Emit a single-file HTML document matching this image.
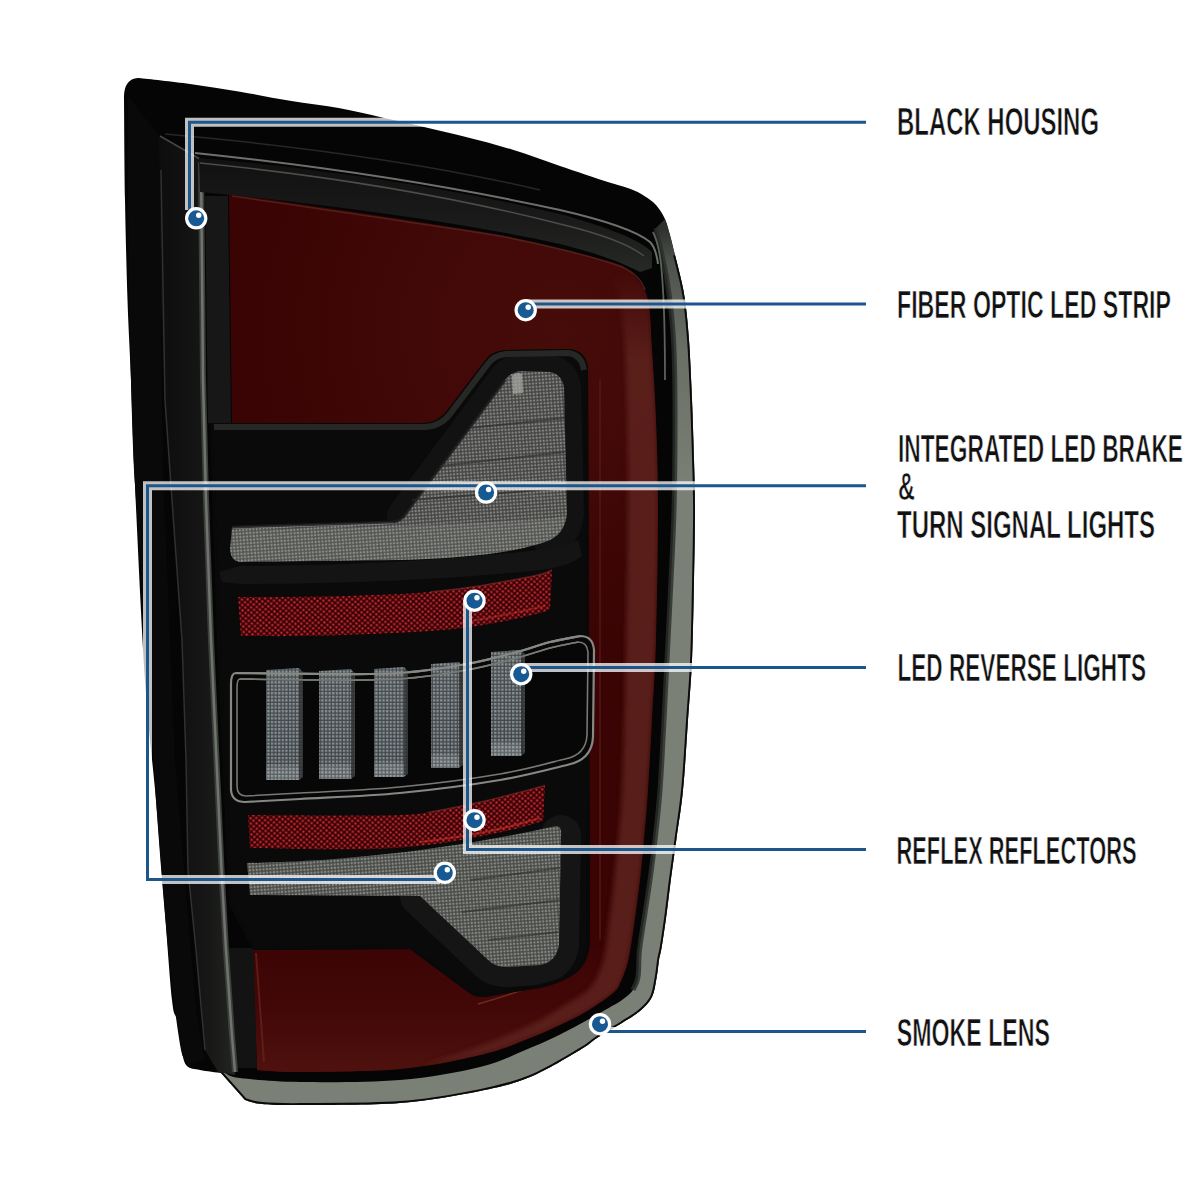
<!DOCTYPE html>
<html>
<head>
<meta charset="utf-8">
<style>
html,body{margin:0;padding:0;background:#fff;}
body{width:1200px;height:1200px;overflow:hidden;position:relative;}
svg{position:absolute;left:0;top:0;display:block;}
text{font-family:"Liberation Sans",sans-serif;fill:#111;}
</style>
</head>
<body>
<svg width="1200" height="1200" viewBox="0 0 1200 1200">
<defs>
  <pattern id="tex" width="3.4" height="3.4" patternUnits="userSpaceOnUse" patternTransform="rotate(-4)">
    <rect width="3.4" height="3.4" fill="#2e2f2d"/>
    <rect x="0.5" y="0.5" width="2.3" height="2.3" fill="#6e6f6b"/>
    <rect x="1" y="1" width="1.2" height="1.2" fill="#8c8d89"/>
  </pattern>
  <pattern id="texb" width="3.6" height="3.6" patternUnits="userSpaceOnUse">
    <rect width="3.6" height="3.6" fill="#3e4447"/>
    <rect x="0.9" y="0.9" width="2.3" height="2.3" fill="#858e92"/>
  </pattern>
  <linearGradient id="barsh" x1="0" y1="0" x2="0" y2="1">
    <stop offset="0" stop-color="#ffffff" stop-opacity="0.05"/>
    <stop offset="0.85" stop-color="#ffffff" stop-opacity="0.0"/>
    <stop offset="0.9" stop-color="#ffffff" stop-opacity="0.15"/>
    <stop offset="1" stop-color="#ffffff" stop-opacity="0.15"/>
  </linearGradient>
  <pattern id="dots" width="5.8" height="5.4" patternUnits="userSpaceOnUse" patternTransform="rotate(-3)">
    <rect width="5.8" height="5.4" fill="#360306"/>
    <circle cx="1.45" cy="1.35" r="1.4" fill="#9e1a21"/>
    <circle cx="4.35" cy="4.05" r="1.4" fill="#9e1a21"/>
    <circle cx="1.25" cy="1.1" r="0.55" fill="#d24440"/>
    <circle cx="4.15" cy="3.8" r="0.55" fill="#d24440"/>
  </pattern>
  <linearGradient id="lensg" gradientUnits="userSpaceOnUse" x1="0" y1="228" x2="0" y2="1100">
    <stop offset="0" stop-color="#2e312d"/>
    <stop offset="0.04" stop-color="#4e524c"/>
    <stop offset="0.14" stop-color="#6a6f66"/>
    <stop offset="0.3" stop-color="#7a8076"/>
    <stop offset="1" stop-color="#7a8076"/>
  </linearGradient>
  <linearGradient id="bezL" x1="0" y1="0" x2="1" y2="0">
    <stop offset="0" stop-color="#0c0d0c"/>
    <stop offset="0.6" stop-color="#151615"/>
    <stop offset="1" stop-color="#232522"/>
  </linearGradient>
  <linearGradient id="bezT" x1="0" y1="0" x2="0" y2="1">
    <stop offset="0" stop-color="#101110"/>
    <stop offset="0.5" stop-color="#181918"/>
    <stop offset="1" stop-color="#272926"/>
  </linearGradient>
  <linearGradient id="stripg" gradientUnits="userSpaceOnUse" x1="600" y1="0" x2="640" y2="0">
    <stop offset="0" stop-color="#5a1e19" stop-opacity="0"/>
    <stop offset="0.55" stop-color="#5a1e19" stop-opacity="0.85"/>
    <stop offset="1" stop-color="#5a1e19" stop-opacity="0.9"/>
  </linearGradient>
  <linearGradient id="stripmg" gradientUnits="userSpaceOnUse" x1="0" y1="270" x2="0" y2="360">
    <stop offset="0" stop-color="#000"/>
    <stop offset="1" stop-color="#fff"/>
  </linearGradient>
  <mask id="stripm" maskUnits="userSpaceOnUse" x="0" y="0" width="1200" height="1200"><rect x="0" y="0" width="1200" height="1200" fill="url(#stripmg)"/></mask>
  <filter id="blur3" x="-10%" y="-10%" width="120%" height="120%"><feGaussianBlur stdDeviation="2.5"/></filter>
  <radialGradient id="redTop" gradientUnits="userSpaceOnUse" cx="560" cy="330" r="330">
    <stop offset="0" stop-color="#460c0a"/>
    <stop offset="1" stop-color="#3a0404"/>
  </radialGradient>
  <linearGradient id="redBot" gradientUnits="userSpaceOnUse" x1="0" y1="950" x2="0" y2="1070">
    <stop offset="0" stop-color="#3c0505"/>
    <stop offset="0.5" stop-color="#420807"/>
    <stop offset="1" stop-color="#4e110e"/>
  </linearGradient>
</defs>
<path fill="#050505" d="M139.0,78.0 C147.5,79.0 173.2,81.7 190.0,84.0 C206.8,86.3 223.3,88.9 240.0,91.7 C256.7,94.5 273.3,98.0 290.0,100.8 C306.7,103.6 324.7,105.5 340.0,108.3 C355.3,111.1 368.2,114.4 382.0,117.5 C395.8,120.6 409.0,123.5 423.0,126.7 C437.0,129.9 451.2,133.2 466.0,137.0 C480.8,140.8 496.3,144.7 512.0,149.5 C527.7,154.3 544.2,160.6 560.0,166.0 C575.8,171.4 595.3,177.9 607.0,181.7 C618.7,185.5 623.8,186.4 630.0,188.7 C636.2,191.0 639.7,193.0 644.0,195.7 C648.3,198.4 652.5,201.1 656.0,205.0 C659.5,208.9 662.7,214.0 665.0,219.0 C667.3,224.0 668.3,229.0 670.0,235.0 C671.7,241.0 673.3,248.3 675.0,255.0 C676.7,261.7 678.3,267.5 680.0,275.0 C681.7,282.5 683.5,289.2 685.0,300.0 C686.5,310.8 687.8,323.3 689.0,340.0 C690.2,356.7 691.2,380.0 692.0,400.0 C692.8,420.0 693.5,441.7 694.0,460.0 C694.5,478.3 695.0,490.0 695.0,510.0 C695.0,530.0 694.5,555.0 694.0,580.0 C693.5,605.0 693.0,636.7 692.0,660.0 C691.0,683.3 689.5,698.3 688.0,720.0 C686.5,741.7 685.0,770.0 683.0,790.0 C681.0,810.0 678.3,825.0 676.3,840.0 C674.3,855.0 672.4,867.8 670.8,880.0 C669.2,892.2 668.2,901.8 666.7,913.0 C665.2,924.2 663.0,939.2 661.7,947.0 C660.4,954.8 659.8,955.0 659.0,960.0 C658.2,965.0 657.9,970.8 656.7,977.0 C655.5,983.2 654.8,991.3 652.0,997.0 C649.2,1002.7 645.0,1006.7 640.0,1011.0 C635.0,1015.3 629.2,1018.5 622.0,1023.0 C614.8,1027.5 604.0,1033.5 597.0,1038.0 C590.0,1042.5 591.2,1043.5 580.0,1050.0 C568.8,1056.5 546.7,1070.2 530.0,1077.0 C513.3,1083.8 501.7,1086.7 480.0,1091.0 C458.3,1095.3 430.0,1100.7 400.0,1103.0 C370.0,1105.3 323.0,1104.8 300.0,1105.0 C277.0,1105.2 271.2,1104.8 262.0,1104.0 C252.8,1103.2 247.8,1100.7 245.0,1100.0 L221,1073 C217.5,1072.5 205.7,1071.2 200.0,1070.0 C194.3,1068.8 190.0,1069.0 187.0,1066.0 C184.0,1063.0 183.7,1059.7 182.0,1052.0 C180.3,1044.3 178.7,1028.7 177.0,1020.0 C175.3,1011.3 174.2,1020.0 172.0,1000.0 C169.8,980.0 166.7,933.3 164.0,900.0 C161.3,866.7 159.2,836.7 156.0,800.0 C152.8,763.3 148.5,732.5 145.0,680.0 C141.5,627.5 137.3,535.0 135.0,485.0 C132.7,435.0 132.2,410.8 131.0,380.0 C129.8,349.2 128.5,330.0 127.5,300.0 C126.5,270.0 125.6,233.3 125.0,200.0 C124.4,166.7 124.2,116.7 124.0,100.0 Q123,79 138,78 Z"/>
<clipPath id="silclip"><path d="M139.0,78.0 C147.5,79.0 173.2,81.7 190.0,84.0 C206.8,86.3 223.3,88.9 240.0,91.7 C256.7,94.5 273.3,98.0 290.0,100.8 C306.7,103.6 324.7,105.5 340.0,108.3 C355.3,111.1 368.2,114.4 382.0,117.5 C395.8,120.6 409.0,123.5 423.0,126.7 C437.0,129.9 451.2,133.2 466.0,137.0 C480.8,140.8 496.3,144.7 512.0,149.5 C527.7,154.3 544.2,160.6 560.0,166.0 C575.8,171.4 595.3,177.9 607.0,181.7 C618.7,185.5 623.8,186.4 630.0,188.7 C636.2,191.0 639.7,193.0 644.0,195.7 C648.3,198.4 652.5,201.1 656.0,205.0 C659.5,208.9 662.7,214.0 665.0,219.0 C667.3,224.0 668.3,229.0 670.0,235.0 C671.7,241.0 673.3,248.3 675.0,255.0 C676.7,261.7 678.3,267.5 680.0,275.0 C681.7,282.5 683.5,289.2 685.0,300.0 C686.5,310.8 687.8,323.3 689.0,340.0 C690.2,356.7 691.2,380.0 692.0,400.0 C692.8,420.0 693.5,441.7 694.0,460.0 C694.5,478.3 695.0,490.0 695.0,510.0 C695.0,530.0 694.5,555.0 694.0,580.0 C693.5,605.0 693.0,636.7 692.0,660.0 C691.0,683.3 689.5,698.3 688.0,720.0 C686.5,741.7 685.0,770.0 683.0,790.0 C681.0,810.0 678.3,825.0 676.3,840.0 C674.3,855.0 672.4,867.8 670.8,880.0 C669.2,892.2 668.2,901.8 666.7,913.0 C665.2,924.2 663.0,939.2 661.7,947.0 C660.4,954.8 659.8,955.0 659.0,960.0 C658.2,965.0 657.9,970.8 656.7,977.0 C655.5,983.2 654.8,991.3 652.0,997.0 C649.2,1002.7 645.0,1006.7 640.0,1011.0 C635.0,1015.3 629.2,1018.5 622.0,1023.0 C614.8,1027.5 604.0,1033.5 597.0,1038.0 C590.0,1042.5 591.2,1043.5 580.0,1050.0 C568.8,1056.5 546.7,1070.2 530.0,1077.0 C513.3,1083.8 501.7,1086.7 480.0,1091.0 C458.3,1095.3 430.0,1100.7 400.0,1103.0 C370.0,1105.3 323.0,1104.8 300.0,1105.0 C277.0,1105.2 271.2,1104.8 262.0,1104.0 C252.8,1103.2 247.8,1100.7 245.0,1100.0 L221,1073 C217.5,1072.5 205.7,1071.2 200.0,1070.0 C194.3,1068.8 190.0,1069.0 187.0,1066.0 C184.0,1063.0 183.7,1059.7 182.0,1052.0 C180.3,1044.3 178.7,1028.7 177.0,1020.0 C175.3,1011.3 174.2,1020.0 172.0,1000.0 C169.8,980.0 166.7,933.3 164.0,900.0 C161.3,866.7 159.2,836.7 156.0,800.0 C152.8,763.3 148.5,732.5 145.0,680.0 C141.5,627.5 137.3,535.0 135.0,485.0 C132.7,435.0 132.2,410.8 131.0,380.0 C129.8,349.2 128.5,330.0 127.5,300.0 C126.5,270.0 125.6,233.3 125.0,200.0 C124.4,166.7 124.2,116.7 124.0,100.0 Q123,79 138,78 Z"/></clipPath>
<path fill="url(#lensg)" clip-path="url(#silclip)" d="M665.0,219.0 C665.8,221.7 668.3,229.0 670.0,235.0 C671.7,241.0 673.3,248.3 675.0,255.0 C676.7,261.7 678.3,267.5 680.0,275.0 C681.7,282.5 683.5,289.2 685.0,300.0 C686.5,310.8 687.8,323.3 689.0,340.0 C690.2,356.7 691.2,380.0 692.0,400.0 C692.8,420.0 693.5,441.7 694.0,460.0 C694.5,478.3 695.0,490.0 695.0,510.0 C695.0,530.0 694.5,555.0 694.0,580.0 C693.5,605.0 693.0,636.7 692.0,660.0 C691.0,683.3 689.5,698.3 688.0,720.0 C686.5,741.7 685.0,770.0 683.0,790.0 C681.0,810.0 678.3,825.0 676.3,840.0 C674.3,855.0 672.4,867.8 670.8,880.0 C669.2,892.2 668.2,901.8 666.7,913.0 C665.2,924.2 663.0,939.2 661.7,947.0 C660.4,954.8 659.8,955.0 659.0,960.0 C658.2,965.0 657.9,970.8 656.7,977.0 C655.5,983.2 654.8,991.3 652.0,997.0 C649.2,1002.7 645.0,1006.7 640.0,1011.0 C635.0,1015.3 629.2,1018.5 622.0,1023.0 C614.8,1027.5 604.0,1033.5 597.0,1038.0 C590.0,1042.5 591.2,1043.5 580.0,1050.0 C568.8,1056.5 546.7,1070.2 530.0,1077.0 C513.3,1083.8 501.7,1086.7 480.0,1091.0 C458.3,1095.3 430.0,1100.7 400.0,1103.0 C370.0,1105.3 323.0,1104.8 300.0,1105.0 C277.0,1105.2 271.2,1104.8 262.0,1104.0 C252.8,1103.2 251.8,1105.2 245.0,1100.0 C238.2,1094.8 225.0,1077.5 221.0,1073.0 L221,1073 L225,1073 C227.5,1073.8 227.5,1076.5 240.0,1078.0 C252.5,1079.5 273.3,1081.7 300.0,1082.0 C326.7,1082.3 370.0,1082.5 400.0,1080.0 C430.0,1077.5 458.3,1072.3 480.0,1067.0 C501.7,1061.7 516.2,1053.7 530.0,1048.0 C543.8,1042.3 550.5,1039.3 563.0,1033.0 C575.5,1026.7 595.2,1015.5 605.0,1010.0 C614.8,1004.5 617.3,1003.3 622.0,1000.0 C626.7,996.7 630.3,993.8 633.0,990.0 C635.7,986.2 636.9,983.7 638.0,977.0 C639.1,970.3 638.3,960.7 639.5,950.0 C640.7,939.3 643.2,924.7 645.0,913.0 C646.8,901.3 648.3,892.2 650.0,880.0 C651.7,867.8 653.3,855.0 655.0,840.0 C656.7,825.0 658.5,810.0 660.0,790.0 C661.5,770.0 662.7,745.0 664.0,720.0 C665.3,695.0 666.8,663.3 668.0,640.0 C669.2,616.7 670.0,601.7 671.0,580.0 C672.0,558.3 673.3,536.7 674.0,510.0 C674.7,483.3 675.0,446.7 675.0,420.0 C675.0,393.3 674.7,368.3 674.0,350.0 C673.3,331.7 672.2,321.7 671.0,310.0 C669.8,298.3 668.5,289.2 667.0,280.0 C665.5,270.8 663.5,262.0 662.0,255.0 C660.5,248.0 659.0,242.5 658.0,238.0 C657.0,233.5 656.3,229.7 656.0,228.0 Z"/>
<path fill="none" stroke="#2a2d29" stroke-width="5" opacity="0.8" d="M656.0,228.0 C656.3,229.7 657.0,233.5 658.0,238.0 C659.0,242.5 660.5,248.0 662.0,255.0 C663.5,262.0 665.5,270.8 667.0,280.0 C668.5,289.2 669.8,298.3 671.0,310.0 C672.2,321.7 673.3,331.7 674.0,350.0 C674.7,368.3 675.0,393.3 675.0,420.0 C675.0,446.7 674.7,483.3 674.0,510.0 C673.3,536.7 672.0,558.3 671.0,580.0 C670.0,601.7 669.2,616.7 668.0,640.0 C666.8,663.3 665.3,695.0 664.0,720.0 C662.7,745.0 661.5,770.0 660.0,790.0 C658.5,810.0 656.7,825.0 655.0,840.0 C653.3,855.0 651.7,867.8 650.0,880.0 C648.3,892.2 646.8,901.3 645.0,913.0 C643.2,924.7 640.7,939.3 639.5,950.0 C638.3,960.7 639.1,970.3 638.0,977.0 C636.9,983.7 633.8,987.8 633.0,990.0"/>
<path fill="none" stroke="#0a0a0a" stroke-width="3.8" clip-path="url(#silclip)" d="M675.0,255.0 C675.8,258.3 678.3,267.5 680.0,275.0 C681.7,282.5 683.5,289.2 685.0,300.0 C686.5,310.8 687.8,323.3 689.0,340.0 C690.2,356.7 691.2,380.0 692.0,400.0 C692.8,420.0 693.5,441.7 694.0,460.0 C694.5,478.3 695.0,490.0 695.0,510.0 C695.0,530.0 694.5,555.0 694.0,580.0 C693.5,605.0 693.0,636.7 692.0,660.0 C691.0,683.3 689.5,698.3 688.0,720.0 C686.5,741.7 685.0,770.0 683.0,790.0 C681.0,810.0 678.3,825.0 676.3,840.0 C674.3,855.0 672.4,867.8 670.8,880.0 C669.2,892.2 668.2,901.8 666.7,913.0 C665.2,924.2 663.0,939.2 661.7,947.0 C660.4,954.8 659.8,955.0 659.0,960.0 C658.2,965.0 657.9,970.8 656.7,977.0 C655.5,983.2 654.8,991.3 652.0,997.0 C649.2,1002.7 645.0,1006.7 640.0,1011.0 C635.0,1015.3 629.2,1018.5 622.0,1023.0 C614.8,1027.5 604.0,1033.5 597.0,1038.0 C590.0,1042.5 591.2,1043.5 580.0,1050.0 C568.8,1056.5 546.7,1070.2 530.0,1077.0 C513.3,1083.8 501.7,1086.7 480.0,1091.0 C458.3,1095.3 430.0,1100.7 400.0,1103.0 C370.0,1105.3 323.0,1104.8 300.0,1105.0 C277.0,1105.2 271.2,1104.8 262.0,1104.0 C252.8,1103.2 247.8,1100.7 245.0,1100.0 L221,1073"/>
<path fill="none" stroke="#5d615b" stroke-width="1.8" d="M653,232 Q660,246 662,275 C664,300 665,340 665,380"/>
<path fill="url(#redTop)" d="M229.0,194.0 C240.8,195.7 274.8,200.3 300.0,204.0 C325.2,207.7 355.0,212.2 380.0,216.0 C405.0,219.8 430.0,223.8 450.0,227.0 C470.0,230.2 481.7,231.3 500.0,235.0 C518.3,238.7 543.3,245.0 560.0,249.0 C576.7,253.0 589.3,256.0 600.0,259.0 C610.7,262.0 617.2,262.8 624.0,267.0 C630.8,271.2 636.8,277.7 641.0,284.0 C645.2,290.3 647.2,294.0 649.0,305.0 C650.8,316.0 650.8,330.8 652.0,350.0 C653.2,369.2 655.0,393.3 656.0,420.0 C657.0,446.7 658.0,473.3 658.0,510.0 C658.0,546.7 657.0,605.0 656.0,640.0 C655.0,675.0 653.3,695.0 652.0,720.0 C650.7,745.0 649.3,770.0 648.0,790.0 C646.7,810.0 645.3,825.0 644.0,840.0 C642.7,855.0 641.4,867.8 640.0,880.0 C638.6,892.2 637.3,901.8 635.8,913.0 C634.3,924.2 632.3,938.3 630.8,947.0 C629.3,955.7 628.6,959.3 627.0,965.0 C625.4,970.7 623.3,976.3 621.0,981.0 C618.7,985.7 619.8,987.3 613.0,993.0 C606.2,998.7 593.8,1007.5 580.0,1015.0 C566.2,1022.5 546.7,1031.3 530.0,1038.0 C513.3,1044.7 501.7,1049.8 480.0,1055.0 C458.3,1060.2 430.0,1066.2 400.0,1069.0 C370.0,1071.8 323.8,1071.8 300.0,1072.0 C276.2,1072.2 264.2,1070.3 257.0,1070.0 L253,950 L240,700 L232,422 Z"/>
<clipPath id="redclip"><path d="M229.0,194.0 C240.8,195.7 274.8,200.3 300.0,204.0 C325.2,207.7 355.0,212.2 380.0,216.0 C405.0,219.8 430.0,223.8 450.0,227.0 C470.0,230.2 481.7,231.3 500.0,235.0 C518.3,238.7 543.3,245.0 560.0,249.0 C576.7,253.0 589.3,256.0 600.0,259.0 C610.7,262.0 617.2,262.8 624.0,267.0 C630.8,271.2 636.8,277.7 641.0,284.0 C645.2,290.3 647.2,294.0 649.0,305.0 C650.8,316.0 650.8,330.8 652.0,350.0 C653.2,369.2 655.0,393.3 656.0,420.0 C657.0,446.7 658.0,473.3 658.0,510.0 C658.0,546.7 657.0,605.0 656.0,640.0 C655.0,675.0 653.3,695.0 652.0,720.0 C650.7,745.0 649.3,770.0 648.0,790.0 C646.7,810.0 645.3,825.0 644.0,840.0 C642.7,855.0 641.4,867.8 640.0,880.0 C638.6,892.2 637.3,901.8 635.8,913.0 C634.3,924.2 632.3,938.3 630.8,947.0 C629.3,955.7 628.6,959.3 627.0,965.0 C625.4,970.7 623.3,976.3 621.0,981.0 C618.7,985.7 619.8,987.3 613.0,993.0 C606.2,998.7 593.8,1007.5 580.0,1015.0 C566.2,1022.5 546.7,1031.3 530.0,1038.0 C513.3,1044.7 501.7,1049.8 480.0,1055.0 C458.3,1060.2 430.0,1066.2 400.0,1069.0 C370.0,1071.8 323.8,1071.8 300.0,1072.0 C276.2,1072.2 264.2,1070.3 257.0,1070.0 L253,950 L240,700 L232,422 Z"/></clipPath>
<path fill="url(#redBot)" clip-path="url(#redclip)" d="M240,950 L660,950 L660,1080 L240,1080 Z"/>
<g clip-path="url(#redclip)"><g mask="url(#stripm)"><path fill="#5c201a" opacity="0.9" filter="url(#blur3)" d="M626.0,268.0 C628.5,270.7 637.2,277.8 641.0,284.0 C644.8,290.2 647.2,294.0 649.0,305.0 C650.8,316.0 650.8,330.8 652.0,350.0 C653.2,369.2 655.0,393.3 656.0,420.0 C657.0,446.7 658.0,473.3 658.0,510.0 C658.0,546.7 657.0,605.0 656.0,640.0 C655.0,675.0 653.3,695.0 652.0,720.0 C650.7,745.0 649.3,770.0 648.0,790.0 C646.7,810.0 645.3,825.0 644.0,840.0 C642.7,855.0 641.4,867.8 640.0,880.0 C638.6,892.2 637.3,901.8 635.8,913.0 C634.3,924.2 632.3,938.3 630.8,947.0 C629.3,955.7 628.6,959.3 627.0,965.0 C625.4,970.7 623.3,976.3 621.0,981.0 C618.7,985.7 619.8,987.3 613.0,993.0 C606.2,998.7 593.8,1007.5 580.0,1015.0 C566.2,1022.5 546.7,1031.3 530.0,1038.0 C513.3,1044.7 498.3,1050.3 480.0,1055.0 C461.7,1059.7 430.0,1064.2 420.0,1066.0 L420,1066 C430.0,1062.7 461.7,1052.8 480.0,1046.0 C498.3,1039.2 515.8,1031.8 530.0,1025.0 C544.2,1018.2 555.0,1011.2 565.0,1005.0 C575.0,998.8 583.7,995.2 590.0,988.0 C596.3,980.8 600.0,971.7 603.0,962.0 C606.0,952.3 606.2,943.7 608.0,930.0 C609.8,916.3 611.7,903.3 614.0,880.0 C616.3,856.7 620.0,830.0 622.0,790.0 C624.0,750.0 625.0,686.7 626.0,640.0 C627.0,593.3 627.8,546.7 628.0,510.0 C628.2,473.3 627.5,446.7 627.0,420.0 C626.5,393.3 626.2,370.0 625.0,350.0 C623.8,330.0 622.2,311.7 620.0,300.0 C617.8,288.3 613.3,283.3 612.0,280.0 Z"/></g></g>
<path fill="none" stroke="#6a2a24" stroke-width="1.5" d="M478,1004 C510,995 540,985 562,972"/>
<path fill="none" stroke="#5b2420" stroke-width="1.5" opacity="0.8" d="M232,196 C320,209 420,223 500,236 C560,248 600,259 622,267 Q640,275 645,290"/>
<path fill="none" stroke="#5a1c18" stroke-width="1.5" opacity="0.8" d="M600,380 L600,940"/>
<path fill="none" stroke="#6a2520" stroke-width="2" opacity="0.7" d="M256,953 L264,1062"/>
<path fill="#090909" d="M128,96 L159,136 L163,470 L175,760 L196,1010 L205,1060 L190,1064 Q183,1062 181,1050 C172,1000 163,900 156,800 C150,700 140,560 134,470 C130,380 127,200 128,96 Z"/>
<path fill="#161716" d="M205,196 L228,196 L231,423 L208,423 Z"/>
<path fill="#121312" d="M228,948 L253,948 L257,1068 L236,1068 Z"/>
<path fill="url(#bezL)" d="M159,136 L199,158 L203,380 L206,500 L211,640 L216.5,760 L221.5,870 L226,950 L232,1036 L235,1075 L218,1072 L205,1050 L196,950 L188,870 L186,760 L182,640 L172,500 L165,400 L161,300 Z"/>
<path fill="none" stroke="#3c3f3b" stroke-width="6" d="M201,162 L203,380 L206,500 L211,640 L216.5,760 L221.5,870 L226,950 L232,1036 L235,1072"/><path fill="none" stroke="#70746e" stroke-width="2.5" d="M201,160 L203,380 L206,500 L211,640 L216.5,760 L221.5,870 L226,950 L232,1036 L235,1072"/>
<path fill="none" stroke="#2f322e" stroke-width="1.5" d="M161,170 L165,400 L172,500 L182,640 L186,760 L188,870 L196,950 L205,1050"/>
<path fill="none" stroke="#555852" stroke-width="1.5" opacity="0.8" d="M160,136 L200,159"/>
<path fill="url(#bezT)" d="M199,158 C320,168 450,188 560,214 C610,228 640,240 652,252 L652,268 L640,272 C620,262 600,254 560,244 C450,220 320,204 200,192 Z"/>
<path fill="none" stroke="#6d716b" stroke-width="2" d="M195,153 C320,166 450,186 560,210 C612,222 638,232 650,242 Q656,248 658,264"/>
<path fill="none" stroke="#4a4d48" stroke-width="1.5" d="M200,163 C320,175 450,196 560,224 C606,235 630,245 644,256"/>
<path fill="none" stroke="#262825" stroke-width="1.5" d="M165,134 C300,146 430,164 540,190"/>
<clipPath id="compclip"><path d="M210,423 L425,423 Q438,422 446,412 L484,362 Q491,351 505,350 L570,349 Q586,351 588,368 L590,940 Q589,962 577,972 Q565,982 540,988 L490,996 Q476,999 468,992 L410,949 L253,950 L229,905 L217,640 Z"/></clipPath>
<path fill="#0a0a0a" d="M210,423 L425,423 Q438,422 446,412 L484,362 Q491,351 505,350 L570,349 Q586,351 588,368 L590,940 Q589,962 577,972 Q565,982 540,988 L490,996 Q476,999 468,992 L410,949 L253,950 L229,905 L217,640 Z"/>
<g clip-path="url(#compclip)" fill="none" stroke-linejoin="round" stroke-linecap="round"><path stroke="#111211" stroke-width="34" d="M404,516 L505,380 Q510,372 522,371 L550,372 Q562,374 564,388 L567,512 Q566,532 550,540"/><path stroke="#141514" stroke-width="40" d="M561,835 L559,945 Q556,962 540,965 L506,967 Q494,967 486,958 L420,896"/></g>
<path fill="none" stroke="#090909" stroke-width="7" clip-path="url(#compclip)" d="M210,423 L425,423 Q438,422 446,412 L484,362 Q491,351 505,350 L570,349 Q586,351 588,368 L590,940 Q589,962 577,972 Q565,982 540,988 L490,996 Q476,999 468,992 L410,949 L253,950 L229,905 L217,640 Z"/>
<path fill="none" stroke="#262826" stroke-width="6" stroke-linejoin="round" d="M214,427 L425,427 Q441,426 450,414 L487,365 Q494,355 506,354 L568,353 Q582,355 584,370"/>
<path fill="url(#tex)" d="M232,527 L393,522 Q400,521 404,516 L505,380 Q510,372 522,371 L550,372 Q562,374 564,388 L567,512 Q566,532 550,540 C520,552 470,558 400,560 L240,562 Q231,561 230,550 Z"/>
<path fill="#d0d2cc" opacity="0.1" d="M232,527 L393,522 Q400,521 404,516 L505,380 Q510,372 522,371 L550,372 Q562,374 564,388 L567,512 Q566,532 550,540 C520,552 470,558 400,560 L240,562 Q231,561 230,550 Z"/>
<path fill="#c8cac4" opacity="0.12" d="M232,530 L400,526 L540,520 L566,516 Q565,532 550,540 C520,552 470,558 400,560 L240,562 Q231,561 230,550 Z"/>
<path fill="none" stroke="#a0a29e" stroke-width="2" opacity="0.7" d="M233,528 L393,523"/>
<path fill="#131413" d="M219,572 L240,566 C320,566 430,562 520,552 Q560,548 578,540 L582,556 Q570,566 540,570 C450,580 330,584 240,584 L222,582 Z"/>
<path fill="none" stroke="#1a1a1a" stroke-width="3" opacity="0.8" d="M232,527 L393,522 Q400,521 404,516 L505,380"/>
<path fill="#a3a6a0" opacity="0.75" d="M512,376 Q514,373 519,373 L522,374 L523,393 L513,394 Z"/>
<g stroke="#2a2b2a" stroke-width="2" opacity="0.6"><path d="M470,428 L565,418"/><path d="M440,466 L565,452"/><path d="M412,500 L565,488"/></g>
<path fill="url(#dots)" d="M238.0,597.0 C246.7,597.0 272.2,597.2 290.0,597.0 C307.8,596.8 326.7,596.5 345.0,596.0 C363.3,595.5 385.8,594.7 400.0,594.0 C414.2,593.3 420.5,592.8 430.0,592.0 C439.5,591.2 447.8,590.2 457.0,589.0 C466.2,587.8 475.7,586.5 485.0,585.0 C494.3,583.5 503.5,581.8 513.0,580.0 C522.5,578.2 535.5,575.7 542.0,574.0 C548.5,572.3 550.3,570.7 552.0,570.0 L552,570 L550,609 C548.3,609.7 546.7,611.2 540.0,613.0 C533.3,614.8 521.7,617.7 510.0,620.0 C498.3,622.3 483.3,625.2 470.0,627.0 C456.7,628.8 446.7,629.8 430.0,631.0 C413.3,632.2 391.7,633.2 370.0,634.0 C348.3,634.8 321.5,635.7 300.0,636.0 C278.5,636.3 250.8,636.0 241.0,636.0 Z"/>
<path fill="none" stroke="#8a2a2a" stroke-width="1.5" opacity="0.6" d="M430.0,592.0 C434.5,591.5 447.8,590.2 457.0,589.0 C466.2,587.8 475.7,586.5 485.0,585.0 C494.3,583.5 503.5,581.8 513.0,580.0 C522.5,578.2 535.5,575.7 542.0,574.0 C548.5,572.3 550.3,570.7 552.0,570.0"/>
<path fill="none" stroke="#c0302a" stroke-width="2" opacity="0.45" d="M460,623 C490,618 520,612 545,606"/>
<path fill="url(#dots)" d="M248.0,815.0 C261.7,815.1 304.7,815.5 330.0,815.5 C355.3,815.5 383.7,815.5 400.0,815.0 C416.3,814.5 418.5,813.8 428.0,812.5 C437.5,811.2 447.5,808.9 457.0,807.0 C466.5,805.1 475.7,803.2 485.0,801.0 C494.3,798.8 503.0,796.6 513.0,794.0 C523.0,791.4 539.7,787.0 545.0,785.6 L545,785.6 L543,821 C538.0,822.4 525.0,826.7 513.0,829.5 C501.0,832.3 485.2,835.4 471.0,838.0 C456.8,840.6 444.5,843.2 428.0,845.0 C411.5,846.8 393.3,848.3 372.0,849.0 C350.7,849.7 320.3,849.2 300.0,849.0 C279.7,848.8 258.3,848.2 250.0,848.0 Z"/>
<path fill="none" stroke="#8a2a2a" stroke-width="1.5" opacity="0.6" d="M428.0,812.5 C432.8,811.6 447.5,808.9 457.0,807.0 C466.5,805.1 475.7,803.2 485.0,801.0 C494.3,798.8 503.0,796.6 513.0,794.0 C523.0,791.4 539.7,787.0 545.0,785.6"/>
<path fill="none" stroke="#c8342c" stroke-width="2.2" opacity="0.55" d="M420,842 C470,836 500,830 540,818"/>
<path fill="#070707" stroke="#858883" stroke-width="2.2" d="M236.0,673.0 C251.7,673.2 302.7,674.0 330.0,674.0 C357.3,674.0 377.2,674.7 400.0,673.0 C422.8,671.3 447.5,667.5 467.0,664.0 C486.5,660.5 503.2,655.7 517.0,652.0 C530.8,648.3 539.5,644.7 550.0,642.0 C560.5,639.3 575.0,637.0 580.0,636.0 Q593,636 594,650 L593,737 Q592,760 567,765 C555.8,767.5 527.8,775.3 500.0,780.0 C472.2,784.7 433.3,789.8 400.0,793.0 C366.7,796.2 325.8,797.5 300.0,799.0 C274.2,800.5 254.2,801.5 245.0,802.0 Q232,802 231,790 L231,684 Q231,673 236,673 Z"/>
<path fill="none" stroke="#767974" stroke-width="1.6" d="M240.0,679.0 C255.0,679.2 303.3,680.0 330.0,680.0 C356.7,680.0 377.2,680.7 400.0,679.0 C422.8,677.3 447.5,673.5 467.0,670.0 C486.5,666.5 503.2,661.7 517.0,658.0 C530.8,654.3 539.8,650.7 550.0,648.0 C560.2,645.3 573.3,643.0 578.0,642.0 Q587,642 588,652 L587,735 Q586,755 565,759 C554.2,761.5 527.5,769.3 500.0,774.0 C472.5,778.7 433.3,783.8 400.0,787.0 C366.7,790.2 325.7,791.5 300.0,793.0 C274.3,794.5 255.0,795.5 246.0,796.0 Q237,796 237,786 L237,688 Q237,679 240,679 Z"/>
<path fill="url(#texb)" d="M266,670 L299,668 L303,673 L303,776 L299,780 L266,780 Z"/>
<path fill="url(#barsh)" d="M266,670 L299,668 L299,780 L266,780 Z"/>
<rect x="299" y="671" width="4" height="107" fill="#2c2d2c" opacity="0.75"/>
<path fill="url(#texb)" d="M319,671 L351,669 L355,674 L355,775 L351,779 L319,779 Z"/>
<path fill="url(#barsh)" d="M319,671 L351,669 L351,779 L319,779 Z"/>
<rect x="351" y="672" width="4" height="105" fill="#2c2d2c" opacity="0.75"/>
<path fill="url(#texb)" d="M374,669 L404,667 L408,672 L408,773 L404,777 L374,777 Z"/>
<path fill="url(#barsh)" d="M374,669 L404,667 L404,777 L374,777 Z"/>
<rect x="404" y="670" width="4" height="105" fill="#2c2d2c" opacity="0.75"/>
<path fill="url(#texb)" d="M431,664 L459,662 L463,667 L463,764 L459,768 L431,768 Z"/>
<path fill="url(#barsh)" d="M431,664 L459,662 L459,768 L431,768 Z"/>
<rect x="459" y="665" width="4" height="101" fill="#2c2d2c" opacity="0.75"/>
<path fill="url(#texb)" d="M491,652 L521,650 L525,655 L525,752 L521,756 L491,756 Z"/>
<path fill="url(#barsh)" d="M491,652 L521,650 L521,756 L491,756 Z"/>
<rect x="521" y="653" width="4" height="101" fill="#2c2d2c" opacity="0.75"/>
<path fill="none" stroke="#858883" stroke-width="2.2" d="M236.0,673.0 C251.7,673.2 302.7,674.0 330.0,674.0 C357.3,674.0 377.2,674.7 400.0,673.0 C422.8,671.3 447.5,667.5 467.0,664.0 C486.5,660.5 503.2,655.7 517.0,652.0 C530.8,648.3 539.5,644.7 550.0,642.0 C560.5,639.3 575.0,637.0 580.0,636.0"/>
<path fill="none" stroke="#767974" stroke-width="1.6" d="M240.0,679.0 C255.0,679.2 303.3,680.0 330.0,680.0 C356.7,680.0 377.2,680.7 400.0,679.0 C422.8,677.3 447.5,673.5 467.0,670.0 C486.5,666.5 503.2,661.7 517.0,658.0 C530.8,654.3 539.8,650.7 550.0,648.0 C560.2,645.3 573.3,643.0 578.0,642.0"/>
<path fill="url(#tex)" d="M247,863 C330,862 440,852 556,826 Q562,826 561,835 L559,945 Q556,962 540,965 L506,967 Q494,967 486,958 L420,896 L250,895 Z"/>
<path fill="#c8cac4" opacity="0.14" d="M247,863 C330,862 440,852 556,826 Q562,826 561,835 L559,945 Q556,962 540,965 L506,967 Q494,967 486,958 L420,896 L250,895 Z"/>
<g stroke="#2a2b2a" stroke-width="2" opacity="0.55" fill="none"><path d="M470,880 L560,868"/><path d="M462,912 L560,900"/><path d="M488,940 L558,932"/></g>
<g fill="none" stroke="#fff" stroke-width="9" opacity="0.75"><path d="M189.5,210 V122.3 H866"/><path d="M525,304 H866"/><path d="M866,485.7 H147.5 V879.5 H440"/><path d="M521,667.5 H866"/><path d="M467.5,600 V849.5 H866"/><path d="M600,1031.5 H866"/></g>
<g fill="none" stroke="#1c568a" stroke-width="3"><path d="M189.5,210 V122.3 H866"/><path d="M525,304 H866"/><path d="M866,485.7 H147.5 V879.5 H440"/><path d="M521,667.5 H866"/><path d="M467.5,600 V849.5 H866"/><path d="M600,1031.5 H866"/></g>
<g transform="translate(196.2,218.3)"><circle r="11.2" fill="#fff"/><circle r="8" fill="#175a93"/><circle cx="2.5" cy="-3" r="2.7" fill="#fff"/></g>
<g transform="translate(525.7,310.2)"><circle r="11.2" fill="#fff"/><circle r="8" fill="#175a93"/><circle cx="2.5" cy="-3" r="2.7" fill="#fff"/></g>
<g transform="translate(486.1,492.5)"><circle r="11.2" fill="#fff"/><circle r="8" fill="#175a93"/><circle cx="2.5" cy="-3" r="2.7" fill="#fff"/></g>
<g transform="translate(474.5,600.7)"><circle r="11.2" fill="#fff"/><circle r="8" fill="#175a93"/><circle cx="2.5" cy="-3" r="2.7" fill="#fff"/></g>
<g transform="translate(521.2,674.2)"><circle r="11.2" fill="#fff"/><circle r="8" fill="#175a93"/><circle cx="2.5" cy="-3" r="2.7" fill="#fff"/></g>
<g transform="translate(474.5,820.2)"><circle r="11.2" fill="#fff"/><circle r="8" fill="#175a93"/><circle cx="2.5" cy="-3" r="2.7" fill="#fff"/></g>
<g transform="translate(444.8,872.8)"><circle r="11.2" fill="#fff"/><circle r="8" fill="#175a93"/><circle cx="2.5" cy="-3" r="2.7" fill="#fff"/></g>
<g transform="translate(600,1024.2)"><circle r="11.2" fill="#fff"/><circle r="8" fill="#175a93"/><circle cx="2.5" cy="-3" r="2.7" fill="#fff"/></g>
<g font-size="39.2" font-weight="bold" stroke="#fff" stroke-width="0.7">
  <text x="897" y="135" textLength="202" lengthAdjust="spacingAndGlyphs">BLACK HOUSING</text>
  <text x="897" y="317.5" textLength="274" lengthAdjust="spacingAndGlyphs">FIBER OPTIC LED STRIP</text>
  <text x="898" y="462" textLength="285" lengthAdjust="spacingAndGlyphs">INTEGRATED LED BRAKE</text>
  <text x="898" y="500" textLength="17" lengthAdjust="spacingAndGlyphs">&amp;</text>
  <text x="897" y="538" textLength="258" lengthAdjust="spacingAndGlyphs">TURN SIGNAL LIGHTS</text>
  <text x="897.5" y="681.3" textLength="248.5" lengthAdjust="spacingAndGlyphs">LED REVERSE LIGHTS</text>
  <text x="896.5" y="863.5" textLength="240" lengthAdjust="spacingAndGlyphs">REFLEX REFLECTORS</text>
  <text x="896.7" y="1045.5" textLength="153.3" lengthAdjust="spacingAndGlyphs">SMOKE LENS</text>
</g>
</svg>
</body>
</html>
